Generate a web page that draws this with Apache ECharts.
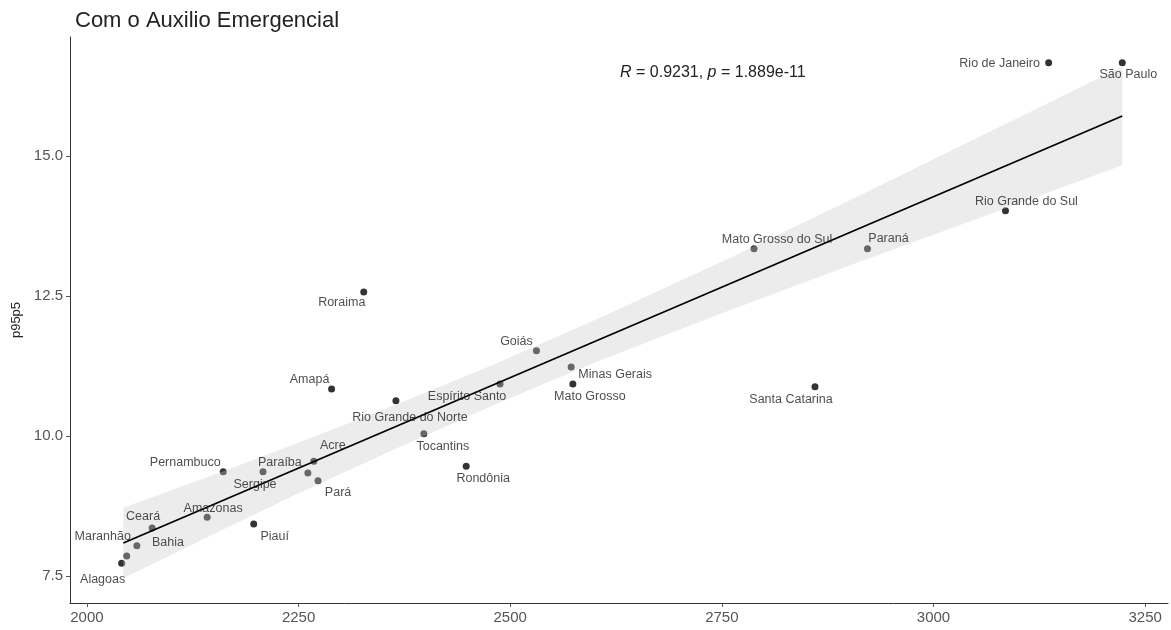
<!DOCTYPE html>
<html>
<head>
<meta charset="utf-8">
<script src="https://cdn.jsdelivr.net/npm/echarts@6/dist/echarts.min.js"></script>
<style>
  html, body { margin: 0; padding: 0; background: #fff; }
  #chart { width: 1171px; height: 630px; }
</style>
</head>
<body>
<div id="chart"></div>
<script>
// estados
var states = ['Rio de Janeiro', 'São Paulo', 'Rio Grande do Sul', 'Paraná', 'Mato Grosso do Sul',
  'Santa Catarina', 'Roraima', 'Goiás', 'Minas Gerais', 'Mato Grosso', 'Espírito Santo', 'Amapá',
  'Rio Grande do Norte', 'Tocantins', 'Rondônia', 'Acre', 'Pernambuco', 'Sergipe', 'Paraíba', 'Pará',
  'Amazonas', 'Ceará', 'Piauí', 'Bahia', 'Maranhão', 'Alagoas']
var renda = [3136, 3223, 3085, 2922, 2788, 2860, 2327, 2531, 2572, 2574, 2488, 2289,
  2365, 2398, 2448, 2268, 2161, 2208, 2261, 2273, 2142, 2077, 2197, 2059, 2047, 2041]
var p95p5 = [16.66, 16.66, 14.02, 13.34, 13.34, 10.88, 12.57, 11.52, 11.23, 10.93, 10.93, 10.84,
  10.63, 10.04, 9.46, 9.55, 9.36, 9.36, 9.34, 9.20, 8.55, 8.36, 8.43, 8.04, 7.86, 7.73]

// reta de regressao e intervalo de confianca
var lineX = [2043, 3223]
var lineY = [8.09, 15.71]
var bandX = [2043, 2150, 2250, 2370, 2480, 2600, 2750, 2900, 3050, 3223]
var bandHigh = [8.72, 9.31, 9.88, 10.59, 11.27, 12.07, 13.11, 14.20, 15.31, 16.59]
var bandLow = [7.46, 8.25, 8.98, 9.81, 10.55, 11.31, 12.19, 13.04, 13.87, 14.83]

var xTicks = [2000, 2250, 2500, 2750, 3000, 3250]
var yTicks = [7.5, 10, 12.5, 15]

// deslocamento dos rotulos (px)
var labelOffsets = [[-49, 1], [6, 12], [21, -9], [21, -10], [23, -9], [-24, 13], [-22, 11], [-20, -9],
  [44, 7], [17, 13], [-33, 13], [-22, -9], [14, 17], [19, 13], [17, 12], [19, -16], [-38, -9],
  [-8, 13], [-28, -10], [20, 12], [6, -9], [-9, -11], [21, 13], [31, -3], [-24, -19], [-19, 16]]

var font = 'Liberation Sans, Arial, sans-serif'

var points = []
var labelPoints = []
for (var i = 0; i < states.length; i++) {
  points.push([renda[i], p95p5[i]])
  labelPoints.push({
    value: [renda[i], p95p5[i]],
    name: states[i],
    label: { offset: labelOffsets[i] }
  })
}

var bandData = []
for (var j = 0; j < bandX.length; j++) {
  bandData.push([bandX[j], bandLow[j], bandHigh[j]])
}

var myChart = echarts.init(document.getElementById('chart'))
var option = {
  animation: false,
  textStyle: { fontFamily: font },
  title: {
    text: 'Com o Auxilio Emergencial',
    left: 70,
    top: 5,
    textStyle: { fontSize: 22, fontWeight: 'normal', color: '#222', fontFamily: font }
  },
  graphic: [{
    type: 'text',
    left: 620,
    top: 65,
    style: {
      text: '{i|R} = 0.9231, {i|p} = 1.889e-11',
      fontSize: 16,
      fill: '#222',
      fontFamily: font,
      rich: { i: { fontStyle: 'italic', fontSize: 16, fontFamily: font } }
    }
  }],
  grid: { left: 70, right: 3, top: 37, bottom: 27 },
  xAxis: {
    type: 'value',
    min: 1980,
    max: 3277,
    splitLine: { show: false },
    axisLine: { lineStyle: { color: '#333', width: 1 } },
    axisTick: { customValues: xTicks, length: 4, lineStyle: { color: '#555' } },
    axisLabel: {
      customValues: xTicks,
      color: '#555',
      fontSize: 15,
      margin: 7,
      formatter: function (v) { return String(v) }
    }
  },
  yAxis: {
    type: 'value',
    min: 7.02,
    max: 17.12,
    name: 'p95p5',
    nameLocation: 'middle',
    nameGap: 46,
    nameTextStyle: { color: '#222', fontSize: 13 },
    splitLine: { show: false },
    axisLine: { show: true, lineStyle: { color: '#333', width: 1 } },
    axisTick: { show: true, customValues: yTicks, length: 4, lineStyle: { color: '#555' } },
    axisLabel: {
      customValues: yTicks,
      color: '#555',
      fontSize: 15,
      margin: 7,
      formatter: function (v) { return v.toFixed(1) }
    }
  },
  series: [
    {
      type: 'scatter',
      data: points,
      symbolSize: 7,
      itemStyle: { color: '#000' },
      z: 1
    },
    {
      type: 'custom',
      data: bandData,
      encode: { x: 0, y: [1, 2] },
      z: 2,
      silent: true,
      renderItem: function (params, api) {
        if (params.dataIndex !== 0) return
        var pts = []
        for (var k = 0; k < bandX.length; k++) pts.push(api.coord([bandX[k], bandHigh[k]]))
        for (var m = bandX.length - 1; m >= 0; m--) pts.push(api.coord([bandX[m], bandLow[m]]))
        return {
          type: 'polygon',
          shape: { points: pts },
          style: { fill: 'rgba(200,200,200,0.35)' }
        }
      }
    },
    {
      type: 'line',
      data: [[lineX[0], lineY[0]], [lineX[1], lineY[1]]],
      symbol: 'none',
      lineStyle: { color: '#000', width: 1.8 },
      z: 3
    },
    {
      type: 'scatter',
      data: labelPoints,
      symbolSize: 0,
      z: 4,
      label: {
        show: true,
        position: 'inside',
        formatter: '{b}',
        color: '#222',
        fontSize: 12.5,
        fontFamily: font
      }
    }
  ]
}
myChart.setOption(option, true)
</script>
</body>
</html>
